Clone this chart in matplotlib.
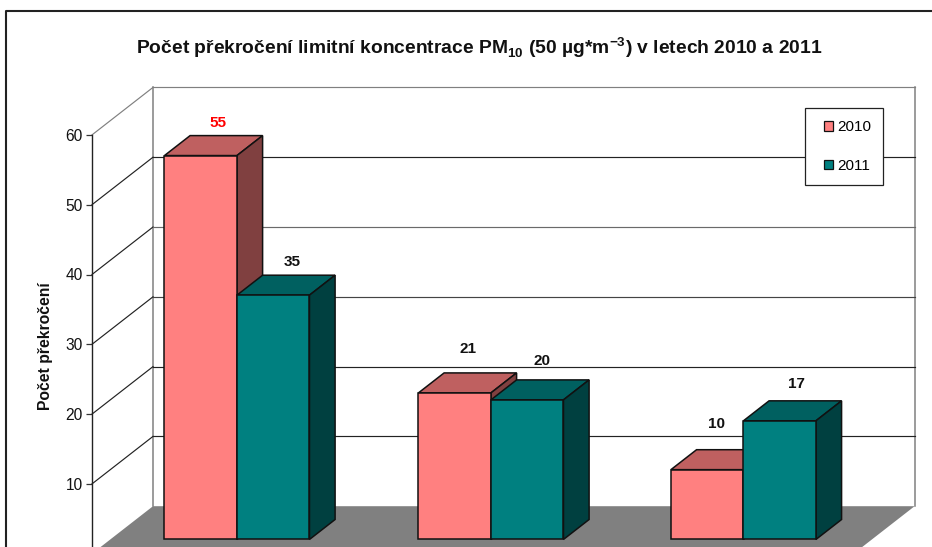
import matplotlib
matplotlib.use("Agg")
import matplotlib.pyplot as plt
from matplotlib.lines import Line2D
from matplotlib.patches import Patch, Polygon, Rectangle
from matplotlib.legend_handler import HandlerPatch

plt.rcParams['font.family'] = ['Liberation Sans', 'DejaVu Sans']
plt.rcParams['mathtext.fontset'] = 'custom'
plt.rcParams['mathtext.rm'] = 'Liberation Sans'
plt.rcParams['mathtext.bf'] = 'Liberation Sans:bold'

# data
series_names = ['2010', '2011']
values_2010 = [55, 21, 10]
values_2011 = [35, 20, 17]
y_ticks = [10, 20, 30, 40, 50, 60]
title_text = r'Počet překročení limitní koncentrace PM$_{\mathbf{10}}$ (50 µg*m$^{\mathbf{-3}}$) v letech 2010 a 2011'
y_title = 'Počet překročení'

# style / layout
W, H = 932, 547
PX_CAT = 253.87   # pixels per category
PX_VAL = 6.98     # pixels per value unit
DEPTH_X = 61 / PX_CAT
DEPTH_Y = 47.5 / PX_VAL
BAR_W = 72.5 / PX_CAT
Z0, Z1 = 0.30, 0.72
centers = [0.499, 1.4995, 2.494]
PINK = ('#FF8080', '#BF6060', '#804040')
TEAL = ('#008080', '#006060', '#004040')
EDGE = '#111111'
GREY = '#808080'

fig = plt.figure(figsize=(W / 100, H / 100), dpi=100, facecolor='white')
ax = fig.add_axes([92 / W, (H - 553.7) / H, 3 * PX_CAT / W, 60 * PX_VAL / H])
ax.set_xlim(0, 3)
ax.set_ylim(0, 60)
ax.patch.set_visible(False)


def P(x, y, z):
    return (x + z * DEPTH_X, y + z * DEPTH_Y)


def poly(pts, fc, ec=EDGE, lw=1.1, zorder=3):
    ax.add_patch(Polygon(pts, closed=True, facecolor=fc, edgecolor=ec, linewidth=lw,
                         joinstyle='miter', clip_on=False, zorder=zorder))


def seg(a, b, color, lw=0.85, zorder=1):
    ax.add_line(Line2D([a[0], b[0]], [a[1], b[1]], color=color, lw=lw, clip_on=False, zorder=zorder))


# floor
poly([P(0, 0, 0), P(3, 0, 0), P(3, 0, 1), P(0, 0, 1)], GREY, ec='none', lw=0, zorder=0.5)

# walls and grid
seg(P(0, 0, 1), P(0, 60, 1), GREY, lw=1.1)
seg(P(3, 0, 1), P(3, 60, 1), GREY, lw=1.1)
for v in y_ticks:
    c = GREY if v == 60 else ('#6a6a6a' if v == 40 else ('#444444' if v == 30 else '#222222'))
    seg(P(0, v, 0), P(0, v, 1), '#808080' if v == 60 else '#222222')
    seg(P(0, v, 1), P(3, v, 1), c)

# bars
for i, c in enumerate(centers):
    for j, (vals, cols) in enumerate(((values_2010, PINK), (values_2011, TEAL))):
        x0 = c + (j - 1) * BAR_W
        x1 = x0 + BAR_W
        v = vals[i]
        zo = 3 + i + j * 0.1
        poly([P(x0, v, Z0), P(x1, v, Z0), P(x1, v, Z1), P(x0, v, Z1)], cols[1], zorder=zo)
        poly([P(x1, 0, Z0), P(x1, v, Z0), P(x1, v, Z1), P(x1, 0, Z1)], cols[2], zorder=zo)
        poly([P(x0, 0, Z0), P(x1, 0, Z0), P(x1, v, Z0), P(x0, v, Z0)], cols[0], zorder=zo + 0.01)

# value labels (offsets in pixels from the front centre of each bar's top)
label_offsets = {(0, 0): (17, 33), (0, 1): (18.5, 33), (1, 0): (13.5, 44),
                 (1, 1): (15, 39), (2, 0): (9, 46), (2, 1): (16.5, 37)}
for i, c in enumerate(centers):
    for j, vals in enumerate((values_2010, values_2011)):
        v = vals[i]
        ax.annotate(str(v), P(c + (j - 0.5) * BAR_W, v, Z0), xytext=label_offsets[(i, j)],
                    textcoords='offset pixels', ha='center', va='center', fontsize=11,
                    fontweight='bold', color='#FF0000' if (i, j) == (0, 0) else '#111111',
                    zorder=20, annotation_clip=False)

# axis
for s in ('top', 'right', 'bottom'):
    ax.spines[s].set_visible(False)
ax.spines['left'].set_color('#222222')
ax.spines['left'].set_linewidth(1.0)
ax.set_xticks([])
ax.set_yticks(y_ticks)
ax.set_yticklabels([str(t) for t in y_ticks], fontsize=11.2, color='#111111')
ax.tick_params(axis='y', length=4.2, width=0.9, color='#333333', pad=2.6)

# texts
fig.text(479.5 / W, 1 - 53.5 / H, title_text, ha='center', va='baseline', fontsize=13.85,
         fontweight='bold', color='#111111')
fig.text(45.5 / W, 1 - 346 / H, y_title, rotation=90, ha='center', va='center', fontsize=11.3,
         fontweight='bold', color='#111111')


# legend: square keys sit at the right end of a wider handle box
def square_key(legend, orig_handle, xdescent, ydescent, width, height, fontsize):
    s = 6.7
    return Rectangle((width - s - xdescent, (height - s) / 2 - ydescent), s, s)


handles = [Patch(facecolor=PINK[0], edgecolor=EDGE, lw=0.9, label=series_names[0]),
           Patch(facecolor=TEAL[0], edgecolor=EDGE, lw=0.9, label=series_names[1])]
leg = ax.legend(handles=handles, loc='upper left', bbox_to_anchor=(805 / W, 1 - 108 / H),
                bbox_transform=fig.transFigure, fontsize=11, frameon=True, fancybox=False,
                edgecolor='#222222', framealpha=1, borderaxespad=0, borderpad=0.8,
                labelspacing=1.63, handlelength=1.03, handleheight=0.7, handletextpad=0.26,
                handler_map={Patch: HandlerPatch(patch_func=square_key)})
leg.get_frame().set_linewidth(0.9)
leg.set_zorder(30)

# outer frame
fig.add_artist(Line2D([6 / W, 6 / W, 1], [0, 1 - 11 / H, 1 - 11 / H], color='#222222', lw=1.5))

fig.savefig('out.png', dpi=100)
